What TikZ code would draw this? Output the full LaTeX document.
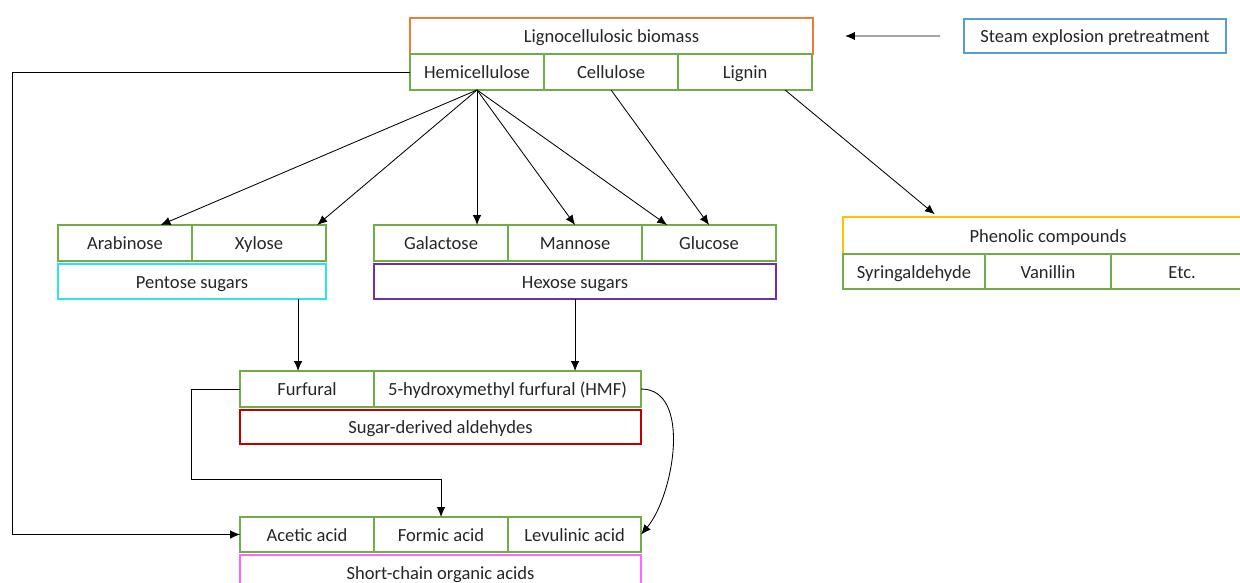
\documentclass[tikz,border=0pt]{standalone}
\usepackage{fontspec}
\setmainfont{Carlito}
\usetikzlibrary{positioning,arrows.meta}
\definecolor{cgreen}{HTML}{70AD47}
\definecolor{corange}{HTML}{ED7D31}
\definecolor{cblue}{HTML}{5B9BD5}
\definecolor{ccyan}{HTML}{2CE6E6}
\definecolor{cpurple}{HTML}{7030A0}
\definecolor{cred}{HTML}{C00000}
\definecolor{cpink}{HTML}{FF66FF}
\definecolor{cgold}{HTML}{FFC000}
\begin{document}
\begin{tikzpicture}[x=0.025cm,y=-0.025cm,line width=0.6pt,>={Latex[length=7pt,width=6pt]},
  every node/.style={font=\fontsize{13.2}{15}\selectfont,text=black!85,inner sep=0pt,outer sep=0pt,text height=10.5pt,text depth=1.2pt},
  comp node/.style={draw=cgreen,line width=1pt,minimum width=3.35cm,minimum height=0.9cm},
  group node/.style={draw=#1,line width=1pt,minimum height=0.9cm},node distance=0pt]
  \useasboundingbox (0,0) rectangle (1240,583);
  % NODES
  \node[group node=corange,minimum width=10.075cm,anchor=north west] (biomass) at (410,18) {Lignocellulosic biomass};
  \node[comp node,anchor=north west] (hemi) at (410,54) {Hemicellulose};
  \node[comp node] (cellu) [right=of hemi] {Cellulose};
  \node[comp node] (lignin) [right=of cellu] {Lignin};
  \node[group node=cblue,minimum width=6.55cm,minimum height=0.85cm,anchor=north west] (steam) at (964,19) {Steam explosion pretreatment};

  \node[comp node,anchor=north west] (arab) at (58,225) {Arabinose};
  \node[comp node] (xyl) [right=of arab] {Xylose};
  \node[group node=ccyan,minimum width=6.7cm,minimum height=0.875cm,anchor=north west] (pentose) at ([yshift=-0.075cm]arab.south west) {Pentose sugars};

  \node[comp node,anchor=north west] (galac) at (374,225) {Galactose};
  \node[comp node] (mann) [right=of galac] {Mannose};
  \node[comp node] (gluc) [right=of mann] {Glucose};
  \node[group node=cpurple,minimum width=10.05cm,minimum height=0.875cm,anchor=north west] (hexose) at ([yshift=-0.075cm]galac.south west) {Hexose sugars};

  \node[group node=cgold,minimum width=10.25cm,minimum height=0.925cm,anchor=north west] (phenol) at (843,217) {Phenolic compounds};
  \node[comp node,minimum width=3.55cm,minimum height=0.875cm,anchor=north west] (syring) at (phenol.south west) {Syringaldehyde};
  \node[comp node,minimum width=3.15cm,minimum height=0.875cm] (vanil) [right=of syring] {Vanillin};
  \node[comp node,minimum width=3.55cm,minimum height=0.875cm] (etc) [right=of vanil] {Etc.};

  \node[comp node,anchor=north west] (furf) at (240,371) {Furfural};
  \node[comp node,minimum width=6.675cm] (hmf) [right=of furf] {5-hydroxymethyl furfural (HMF)};
  \node[group node=cred,minimum width=10.025cm,minimum height=0.85cm,anchor=north west] (aldeh) at ([yshift=-0.075cm]furf.south west) {Sugar-derived aldehydes};

  \node[comp node,minimum height=0.875cm,anchor=north west] (acetic) at (240,517) {Acetic acid};
  \node[comp node,minimum height=0.875cm] (formic) [right=of acetic] {Formic acid};
  \node[comp node,minimum width=3.325cm,minimum height=0.875cm] (levul) [right=of formic] {Levulinic acid};
  \node[group node=cpink,minimum width=10.025cm,minimum height=0.875cm,anchor=north west] (acids) at ([yshift=-0.075cm]acetic.south west) {Short-chain organic acids};
  % PATHS
  \draw[->] ([xshift=-0.6cm]steam.west) -- ([xshift=0.8cm]biomass.east);
  \path[->]
   (hemi.south) edge ([xshift=0.89cm]arab.north)
                edge ([xshift=-0.22cm]xyl.north east)
                edge (hemi.south |- galac.north)
                edge (mann.north)
                edge ([xshift=-1.05cm]gluc.north);
  \draw[->] (cellu.south) -- (gluc.north);
  \draw[->,shorten >=3pt] ([xshift=1cm]lignin.south) -- ([xshift=-2.75cm]phenol.north);
  \coordinate (pdrop) at ([xshift=2.65cm]pentose.south);
  \draw[->] (pdrop) -- (pdrop |- furf.north);
  \draw[->] (hexose.south) -- (hexose.south |- hmf.north);
  \draw[->] (furf.west) -- ++(-1.225cm,0) |- ([yshift=0.95cm]formic.north) -- (formic.north);
  \draw[->] (hemi.west) -- ++(-9.925cm,0) |- (acetic.west);
  \draw[->] (hmf.east) to[out=0,in=50,looseness=0.9] (levul.east);
\end{tikzpicture}
\end{document}
